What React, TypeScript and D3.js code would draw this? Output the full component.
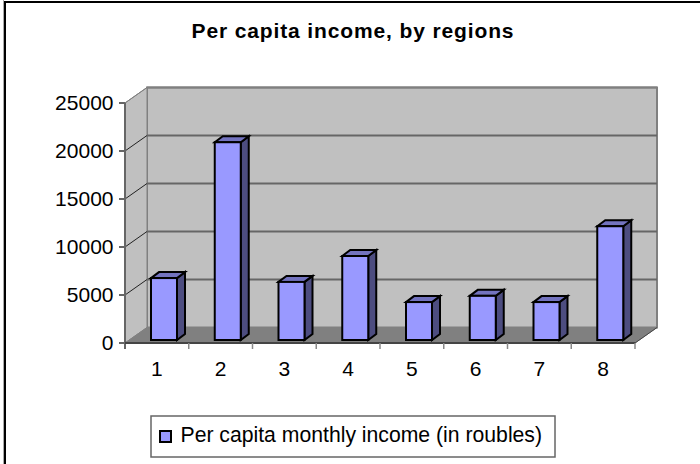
import React from "react";
import * as d3 from "d3";

const categories = ["1", "2", "3", "4", "5", "6", "7", "8"];
const income = [6450, 20600, 6050, 8750, 3950, 4600, 3950, 11850];
const yTicks = [0, 5000, 10000, 15000, 20000, 25000];
const title = "Per capita income, by regions";
const seriesName = "Per capita monthly income (in roubles)";

const W = 700, H = 464;
const x0 = 125, x1 = 635, frontBase = 343, dx = 22, dy = 15.5;
const y = d3.scaleLinear().domain([0, 25000]).range([frontBase, 103]);
const x = d3.scaleBand().domain(categories).range([x0, x1]);
const fontFamily = "'Liberation Sans', Arial, sans-serif";
const pts = (p: number[][]) => p.map((q) => q.join(",")).join(" ");

export default function App() {
  const bw = 26, bd = 8, bdy = 6;
  return (
    <svg width={W} height={H} style={{ position: "fixed", left: 0, top: 0 }} fontFamily={fontFamily}>
      <rect width={W} height={H} fill="#fff" />
      <rect x={3} y={0} width={1} height={H} fill="#aaa" />
      <rect x={4} y={1} width={2} height={H} fill="#000" />
      <rect x={4} y={1} width={W} height={2} fill="#000" />
      <text x={353} y={38} textAnchor="middle" fontSize={21} letterSpacing={0.87} fontWeight="bold" fill="#000">{title}</text>

      {/* walls */}
      <polygon points={pts([[x0 + dx, y(25000) - dy], [x1 + dx, y(25000) - dy], [x1 + dx, frontBase - dy], [x0 + dx, frontBase - dy]])} fill="#c0c0c0" stroke="#808080" strokeWidth={2} />
      <polygon points={pts([[x0, y(25000)], [x0 + dx, y(25000) - dy], [x0 + dx, frontBase - dy], [x0, frontBase]])} fill="#c0c0c0" stroke="#808080" strokeWidth={1} />
      <polygon points={pts([[x0, frontBase], [x0 + dx, frontBase - dy], [x1 + dx, frontBase - dy], [x1, frontBase]])} fill="#808080" stroke="#808080" strokeWidth={1} />

      {/* gridlines */}
      {yTicks.slice(1).map((t) => (
        <g key={t}>
          <line x1={x0 + dx} x2={x1 + dx} y1={y(t) - dy} y2={y(t) - dy} stroke={t === 25000 ? "#808080" : "#666"} strokeWidth={2} />
          <line x1={x0} x2={x0 + dx} y1={y(t)} y2={y(t) - dy} stroke={t === 25000 ? "#808080" : "#222"} strokeWidth={1} />
        </g>
      ))}

      {/* bars */}
      {categories.map((c, i) => {
        const left = (x(c) as number) + 26;
        const base = frontBase - 3;
        const top = y(income[i]) - 3;
        return (
          <g key={c} stroke="#000" strokeWidth={2} strokeLinejoin="miter">
            <polygon points={pts([[left + bw, top], [left + bw + bd, top - bdy], [left + bw + bd, base - bdy], [left + bw, base]])} fill="#4d4d80" />
            <polygon points={pts([[left, top], [left + bd, top - bdy], [left + bw + bd, top - bdy], [left + bw, top]])} fill="#7373bf" />
            <rect x={left} y={top} width={bw} height={base - top} fill="#9999ff" />
          </g>
        );
      })}

      {/* axes */}
      <line x1={x0} x2={x0} y1={y(25000)} y2={frontBase + 6} stroke="#666" strokeWidth={2} />
      <line x1={x0} x2={x1} y1={frontBase} y2={frontBase} stroke="#444" strokeWidth={2} />
      <line x1={x1} x2={x1 + dx} y1={frontBase} y2={frontBase - dy} stroke="#444" strokeWidth={1} />
      {yTicks.map((t) => (
        <g key={t}>
          <line x1={x0 - 6} x2={x0} y1={y(t)} y2={y(t)} stroke="#666" strokeWidth={2} />
          <text x={113.5} y={y(t) + 7} textAnchor="end" fontSize={21} fill="#000">{t}</text>
        </g>
      ))}
      {categories.map((c, i) => (
        <g key={c}>
          <line x1={x0 + (i + 1) * x.bandwidth()} x2={x0 + (i + 1) * x.bandwidth()} y1={frontBase} y2={frontBase + 6} stroke="#888" strokeWidth={1.5} />
          <text x={(x(c) as number) + x.bandwidth() / 2} y={376} textAnchor="middle" fontSize={21} fill="#000">{c}</text>
        </g>
      ))}

      {/* legend */}
      <rect x={151} y={416} width={404} height={41} fill="#fff" stroke="#666" strokeWidth={1.5} />
      <rect x={160} y={431} width={11} height={11} fill="#9999ff" stroke="#000" strokeWidth={2} />
      <text x={180.5} y={442} fontSize={21.2} fill="#000">{seriesName}</text>
    </svg>
  );
}
